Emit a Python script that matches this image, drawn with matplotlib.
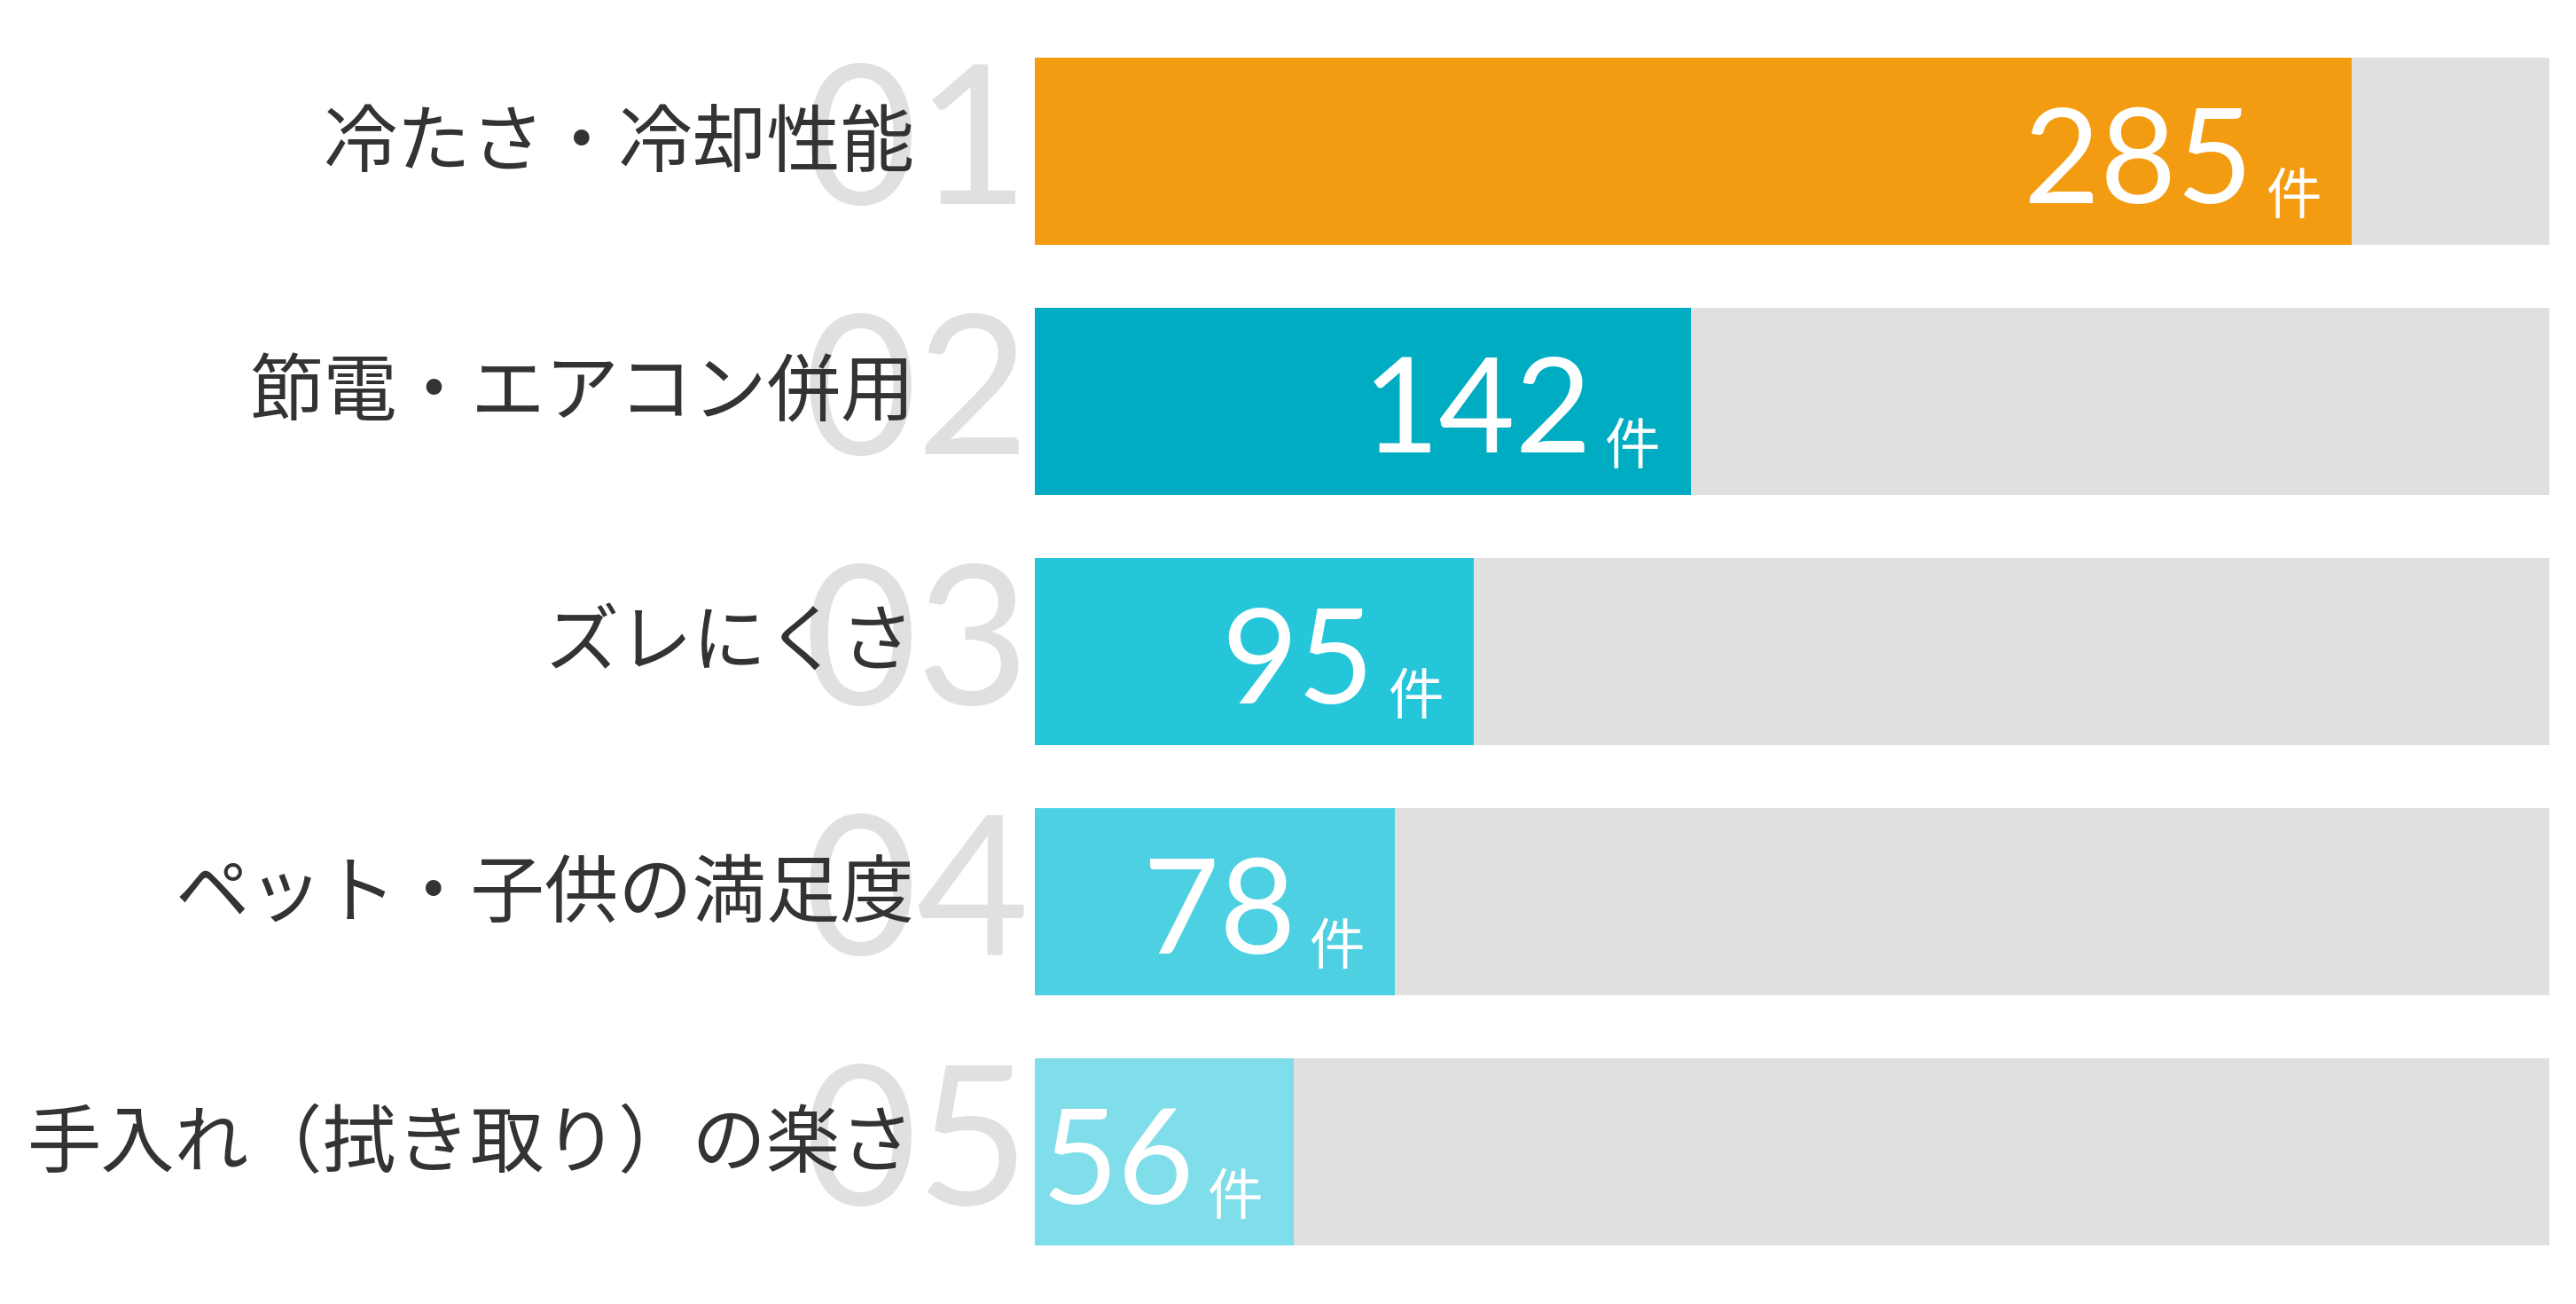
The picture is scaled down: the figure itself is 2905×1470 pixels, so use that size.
import matplotlib

matplotlib.use("Agg")
import matplotlib.pyplot as plt
from matplotlib.transforms import offset_copy, blended_transform_factory

# data
categories = ["冷たさ・冷却性能", "節電・エアコン併用", "ズレにくさ",
              "ペット・子供の満足度", "手入れ（拭き取り）の楽さ"]
counts = [285, 142, 95, 78, 56]
ranks = ["01", "02", "03", "04", "05"]
unit = "件"

bar_colors = ["#F39C12", "#00ACC1", "#26C6DA", "#4DD0E1", "#80DEEA"]
track_color = "#E0E0E0"
label_color = "#333333"

plt.rcParams["font.family"] = ["Noto Sans CJK JP", "DejaVu Sans"]

W, H, DPI = 2905, 1470, 100
fig = plt.figure(figsize=(W / DPI, H / DPI), dpi=DPI)

# axes spans only the bar area; labels live outside it
left_px, right_px, top_px = 1167, 2875, 29.5
pitch = 282
ax = fig.add_axes([left_px / W, 1 - (top_px + 5 * pitch) / H,
                   (right_px - left_px) / W, 5 * pitch / H])
ax.set_axis_off()

full = max(counts) * 1.15
ypos = list(range(len(counts)))
ax.barh(ypos, [full] * len(counts), height=0.75, color=track_color, zorder=1)
ax.barh(ypos, counts, height=0.75, color=bar_colors, zorder=2)
ax.set_xlim(0, full)
ax.set_ylim(len(counts) - 0.5, -0.5)

left_edge = blended_transform_factory(ax.transAxes, ax.transData)

for y, (cat, n, rk) in enumerate(zip(categories, counts, ranks)):
    # faded rank number behind the label
    ax.text(0, y, rk, transform=offset_copy(left_edge, fig=fig, x=-6, y=-59, units="dots"),
            ha="right", va="baseline", fontsize=158, color="#E0E0E0",
            family=["Lato", "DejaVu Sans"], fontweight="normal", clip_on=False, zorder=0)
    # category label
    ax.text(0, y, cat, transform=offset_copy(left_edge, fig=fig, x=-136, y=8, units="dots"),
            ha="right", va="center", fontsize=60, color=label_color, clip_on=False, zorder=3)
    # value + unit inside the bar end
    ax.text(n, y, unit, transform=offset_copy(ax.transData, fig=fig, x=-35, y=-70, units="dots"),
            ha="right", va="baseline", fontsize=45, color="white", zorder=4)
    ax.text(n, y, str(n), transform=offset_copy(ax.transData, fig=fig, x=-112, y=-58, units="dots"),
            ha="right", va="baseline", fontsize=107, color="white",
            family=["Lato", "DejaVu Sans"], zorder=4)

fig.savefig("out.png", dpi=DPI)
